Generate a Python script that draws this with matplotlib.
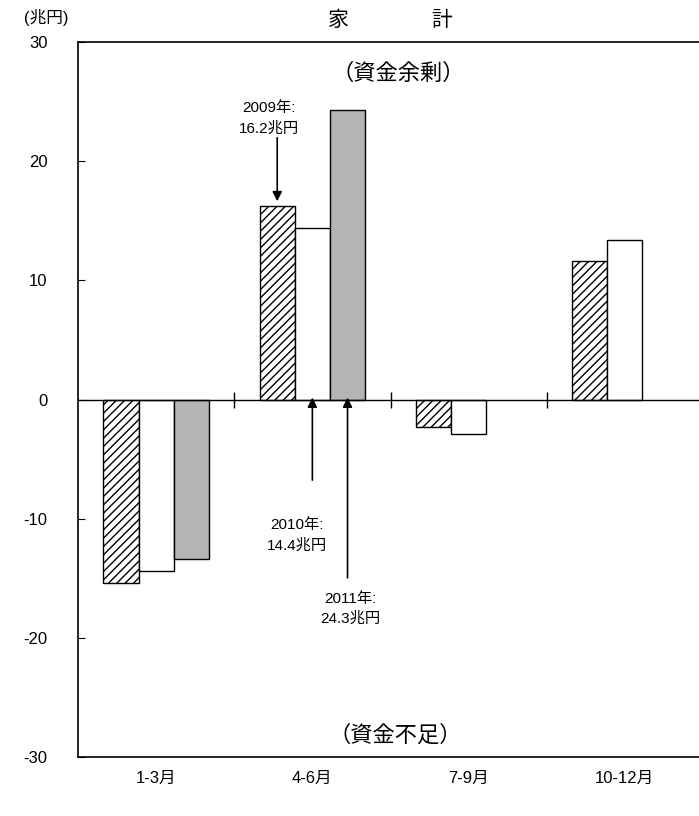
import numpy as np
import matplotlib
matplotlib.use('Agg')
import matplotlib.pyplot as plt

plt.rcParams['font.family'] = ['Liberation Sans', 'Noto Sans CJK JP', 'DejaVu Sans']
plt.rcParams['hatch.linewidth'] = 1.0

quarters = ['1-3月', '4-6月', '7-9月', '10-12月']
y2009 = [-15.4, 16.2, -2.3, 11.6]
y2010 = [-14.4, 14.4, -2.9, 13.4]
y2011 = [-13.4, 24.3, np.nan, np.nan]
yticks = [30, 20, 10, 0, -10, -20, -30]

fig = plt.figure(figsize=(6.99, 8.16), dpi=100)
ax = fig.add_axes([78 / 699, 59 / 816, 625 / 699, 715 / 816])

x = np.arange(len(quarters)) + 0.5
w = 0.225
ax.bar(x - w, y2009, w, color='white', edgecolor='black', hatch='////', lw=1.0, zorder=2)
ax.bar(x, y2010, w, color='white', edgecolor='black', lw=1.0, zorder=2)
ax.bar(x + w, y2011, w, color='#b4b4b4', edgecolor='black', lw=1.0, zorder=2)

ax.axhline(0, color='black', lw=1.0, zorder=3)
ax.plot([1, 2, 3], [0, 0, 0], ls='none', marker='|', ms=12, mew=1.0, color='black', zorder=3)

ax.set_xlim(0, 4)
ax.set_ylim(-30, 30)
ax.set_yticks(yticks)
ax.set_yticklabels([str(v) for v in yticks])
ax.tick_params(axis='y', direction='in', length=5, labelsize=12, pad=22)
ax.set_xticks(x)
ax.set_xticklabels(quarters)
ax.tick_params(axis='x', length=0, labelsize=12, pad=10)
for s in ax.spines.values():
    s.set_linewidth(1.2)

# annotations
arw = dict(arrowstyle='-|>', color='black', lw=1.2, mutation_scale=14)
ax.annotate('', xy=(x[1] - w, 16.4), xytext=(x[1] - w, 22.2), arrowprops=arw)
ax.text(x[1] - w - 0.05, 23.6, '2009年:\n16.2兆円', ha='center', va='center', fontsize=11, linespacing=1.5)
ax.annotate('', xy=(x[1], 0.4), xytext=(x[1], -7.0), arrowprops=arw)
ax.text(x[1] - 0.1, -11.4, '2010年:\n14.4兆円', ha='center', va='center', fontsize=11, linespacing=1.5)
ax.annotate('', xy=(x[1] + w, 0.4), xytext=(x[1] + w, -15.2), arrowprops=arw)
ax.text(x[1] + w + 0.02, -17.6, '2011年:\n24.3兆円', ha='center', va='center', fontsize=11, linespacing=1.5)

ax.text(2.05, 27.3, '（資金余剰）', ha='center', va='center', fontsize=16)
ax.text(2.03, -28.2, '（資金不足）', ha='center', va='center', fontsize=16)

fig.text(338 / 699, 1 - 20 / 816, '家', ha='center', va='center', fontsize=15)
fig.text(442 / 699, 1 - 20 / 816, '計', ha='center', va='center', fontsize=15)
fig.text(46 / 699, 1 - 17 / 816, '(兆円)', ha='center', va='center', fontsize=12)

fig.savefig('out.png', dpi=100)
